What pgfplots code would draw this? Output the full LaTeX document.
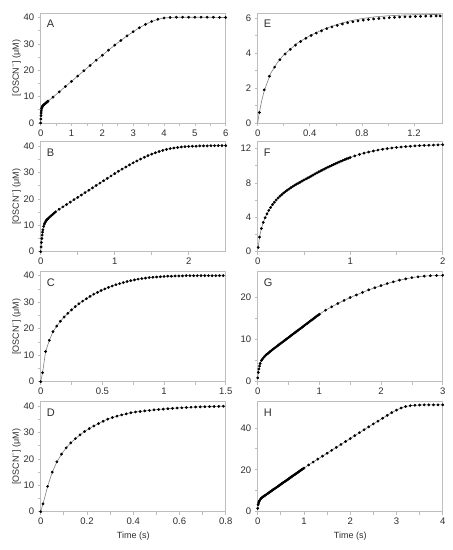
\documentclass[border=0pt]{standalone}
\usepackage{fontspec}
\setmainfont{Liberation Sans}
\usepackage{pgfplots}
\usepackage{pgfplotstable}
\pgfplotsset{compat=1.18}

\definecolor{framegray}{HTML}{BDBDBD}
\definecolor{txt}{HTML}{2E2E2E}

% ---- data (time in s, [OSCN-] in uM) ----
\pgfplotstableread{
t y
0 0
0.005 1.5
0.01 2.8
0.015 3.8
0.02 4.6
0.03 5.4
0.04 5.9
0.05 6.2
0.06 6.4
0.08 6.7
0.1 6.9
0.12 7.1
0.14 7.3
0.16 7.5
0.18 7.7
0.2 7.9
0.22 8.1
0.24 8.3
0.4 9.8
0.6 11.8
0.8 13.8
1.0 15.8
1.2 17.8
1.4 19.8
1.6 21.8
1.8 23.8
2.0 25.7
2.2 27.6
2.4 29.5
2.6 31.3
2.8 33.0
3.0 34.6
3.2 36.1
3.4 37.4
3.6 38.5
3.8 39.3
4.0 39.8
4.2 40.0
4.4 40.1
4.6 40.1
4.8 40.1
5.0 40.1
5.2 40.1
5.4 40.1
5.6 40.1
5.8 40.0
6.0 40.0
}\dataA

\pgfplotstableread{
t y
0 0
0.005 1.8
0.01 3.5
0.015 5.0
0.02 6.3
0.025 7.4
0.03 8.3
0.04 9.6
0.05 10.5
0.06 11.1
0.07 11.6
0.08 12.0
0.09 12.3
0.1 12.6
0.12 13.1
0.14 13.6
0.16 14.1
0.18 14.6
0.2 15.1
0.25 16.1
0.3 17.0
0.35 17.9
0.4 18.8
0.45 19.7
0.5 20.6
0.55 21.5
0.6 22.4
0.65 23.3
0.7 24.2
0.75 25.1
0.8 26.0
0.85 26.9
0.9 27.8
0.95 28.7
1.0 29.6
1.05 30.5
1.1 31.3
1.15 32.1
1.2 32.9
1.25 33.7
1.3 34.4
1.35 35.1
1.4 35.8
1.45 36.4
1.5 37.0
1.55 37.5
1.6 38.0
1.65 38.4
1.7 38.8
1.75 39.1
1.8 39.3
1.85 39.5
1.9 39.7
1.95 39.8
2.0 39.9
2.05 40.0
2.1 40.0
2.15 40.1
2.2 40.1
2.25 40.1
2.3 40.2
2.35 40.2
2.4 40.2
2.45 40.2
2.5 40.2
}\dataB

\pgfplotstableread{
t y
0 0
0.015 3.4
0.04 11.4
0.07 15.6
0.1 18.9
0.13 21.0
0.16 22.8
0.19 24.4
0.22 25.8
0.25 27.1
0.28 28.3
0.31 29.4
0.34 30.4
0.37 31.3
0.40 32.2
0.43 33.0
0.46 33.7
0.49 34.4
0.52 35.0
0.55 35.6
0.58 36.1
0.61 36.6
0.64 37.0
0.67 37.4
0.70 37.8
0.73 38.1
0.76 38.4
0.79 38.7
0.82 38.9
0.85 39.1
0.88 39.3
0.91 39.4
0.94 39.5
0.97 39.6
1.00 39.7
1.03 39.8
1.06 39.8
1.09 39.9
1.12 39.9
1.15 39.9
1.18 40.0
1.21 40.0
1.24 40.0
1.27 40.0
1.30 40.0
1.33 40.0
1.36 40.0
1.39 40.0
1.42 40.0
1.45 40.0
1.48 40.0
}\dataC

\pgfplotstableread{
t y
0 0
0.01 3.0
0.03 9.6
0.05 15.0
0.07 18.9
0.09 21.8
0.11 24.2
0.13 26.1
0.15 27.7
0.17 29.1
0.19 30.4
0.21 31.5
0.23 32.5
0.25 33.4
0.27 34.3
0.29 35.1
0.31 35.7
0.33 36.2
0.35 36.7
0.37 37.1
0.39 37.5
0.41 37.8
0.43 38.0
0.45 38.2
0.47 38.4
0.49 38.6
0.51 38.75
0.53 38.9
0.55 39.05
0.57 39.2
0.59 39.3
0.61 39.4
0.63 39.5
0.65 39.6
0.67 39.7
0.69 39.75
0.71 39.8
0.73 39.85
0.75 39.9
0.77 39.95
0.79 40.0
}\dataD

\pgfplotstableread{
t y
0.013 0.60
0.05 1.90
0.09 2.68
0.13 3.20
0.17 3.62
0.21 3.95
0.25 4.22
0.29 4.46
0.33 4.67
0.37 4.85
0.41 5.01
0.45 5.15
0.49 5.28
0.53 5.40
0.57 5.50
0.61 5.59
0.65 5.67
0.69 5.74
0.73 5.80
0.77 5.85
0.81 5.89
0.85 5.93
0.89 5.96
0.93 5.99
0.97 6.01
1.01 6.03
1.05 6.05
1.09 6.07
1.13 6.08
1.17 6.09
1.21 6.10
1.25 6.11
1.29 6.12
1.33 6.12
1.37 6.13
1.40 6.13
}\dataE

% fitted curve for E (runs a little above the points late on)
\pgfplotstableread{
t y
0 0
0.01 0.5
0.03 1.25
0.05 1.85
0.1 2.85
0.15 3.45
0.2 3.9
0.3 4.55
0.4 5.0
0.5 5.35
0.6 5.62
0.7 5.84
0.8 5.98
0.9 6.08
1.0 6.14
1.1 6.18
1.2 6.2
1.3 6.21
1.4 6.22
}\fitE

\pgfplotstableread{
t y
0.005 0.5
0.02 1.7
0.04 2.7
0.06 3.4
0.08 3.95
0.10 4.4
0.12 4.8
0.14 5.15
0.16 5.47
0.18 5.76
0.20 6.02
0.22 6.25
0.24 6.46
0.26 6.65
0.28 6.83
0.30 7.0
0.32 7.16
0.34 7.31
0.36 7.46
0.38 7.6
0.40 7.73
0.42 7.86
0.44 7.98
0.46 8.1
0.48 8.22
0.50 8.34
0.52 8.46
0.54 8.57
0.56 8.69
0.58 8.81
0.60 8.93
0.62 9.05
0.64 9.17
0.66 9.29
0.68 9.4
0.70 9.51
0.72 9.62
0.74 9.73
0.76 9.84
0.78 9.94
0.80 10.04
0.82 10.14
0.84 10.24
0.86 10.34
0.88 10.44
0.90 10.53
0.92 10.62
0.94 10.71
0.96 10.8
0.98 10.88
1.00 10.96
1.05 11.15
1.10 11.32
1.15 11.47
1.20 11.6
1.25 11.72
1.30 11.83
1.35 11.92
1.40 12.0
1.45 12.07
1.50 12.13
1.55 12.18
1.60 12.23
1.65 12.27
1.70 12.31
1.75 12.34
1.80 12.37
1.85 12.39
1.90 12.41
1.95 12.43
2.00 12.45
}\dataF

\pgfplotstableread{
t y
0 0.9
0.01 2.2
0.02 3.0
0.03 3.7
0.04 4.3
0.06 5.0
0.08 5.4
0.10 5.8
0.12 6.1
0.14 6.4
0.16 6.6
0.18 6.85
0.20 7.1
0.22 7.33
0.24 7.56
0.26 7.79
0.28 8.02
0.30 8.25
0.32 8.47
0.34 8.69
0.36 8.91
0.38 9.13
0.40 9.35
0.42 9.57
0.44 9.79
0.46 10.01
0.48 10.23
0.50 10.45
0.52 10.67
0.54 10.89
0.56 11.11
0.58 11.33
0.60 11.55
0.62 11.77
0.64 11.99
0.66 12.21
0.68 12.43
0.70 12.65
0.72 12.87
0.74 13.09
0.76 13.31
0.78 13.53
0.80 13.75
0.82 13.97
0.84 14.19
0.86 14.41
0.88 14.63
0.90 14.85
0.92 15.07
0.94 15.29
0.96 15.51
0.98 15.73
1.00 15.95
1.1 16.9
1.2 17.7
1.3 18.5
1.4 19.2
1.5 19.9
1.6 20.5
1.7 21.1
1.8 21.7
1.9 22.2
2.0 22.7
2.1 23.2
2.2 23.6
2.3 24.0
2.4 24.3
2.5 24.6
2.6 24.8
2.7 24.95
2.8 25.05
2.9 25.1
3.0 25.15
}\dataG

\pgfplotstableread{
t y
0 1.6
0.01 3.3
0.02 4.2
0.03 4.8
0.04 5.3
0.06 6.0
0.08 6.5
0.10 6.9
0.12 7.2
0.14 7.5
0.16 7.8
0.18 8.11
0.20 8.42
0.22 8.73
0.24 9.04
0.26 9.35
0.28 9.66
0.30 9.97
0.32 10.28
0.34 10.59
0.36 10.9
0.38 11.21
0.40 11.52
0.42 11.83
0.44 12.14
0.46 12.45
0.48 12.76
0.50 13.07
0.52 13.38
0.54 13.69
0.56 14.0
0.58 14.31
0.60 14.62
0.62 14.93
0.64 15.24
0.66 15.55
0.68 15.86
0.70 16.17
0.72 16.48
0.74 16.79
0.76 17.1
0.78 17.41
0.80 17.72
0.82 18.03
0.84 18.34
0.86 18.65
0.88 18.96
0.90 19.27
0.92 19.58
0.94 19.89
0.96 20.2
0.98 20.51
1.00 20.82
1.1 22.3
1.2 23.7
1.3 25.1
1.4 26.5
1.5 27.9
1.6 29.3
1.7 30.7
1.8 32.1
1.9 33.5
2.0 34.9
2.1 36.3
2.2 37.7
2.3 39.1
2.4 40.5
2.5 41.9
2.6 43.2
2.7 44.6
2.8 46.0
2.9 47.3
3.0 48.5
3.1 49.5
3.2 50.2
3.3 50.6
3.4 50.8
3.5 50.9
3.6 51.0
3.7 51.0
3.8 51.0
3.9 51.0
4.0 51.0
}\dataH

\pgfplotsset{
  panel/.style={
    scale only axis, width=185pt, height=110pt, anchor=south west,
    axis line style={framegray, line width=0.7pt},
    tick style={framegray, line width=0.7pt},
    tick align=outside, major tick length=3pt, minor tick length=3pt,
    xtick pos=bottom, ytick pos=left,
    minor tick num=1,
    xmin=0, ymin=0, clip=false,
    tick label style={font=\fontsize{9.5}{10}\selectfont, text=txt},
    /pgf/number format/assume math mode=true,
    /pgf/number format/fixed,
    label style={font=\fontsize{9}{10}\selectfont, text=txt},
  },
  leftcol/.style={panel, ylabel={[OSCN\textsuperscript{−}] (μM)}, ylabel shift=-4pt},
  fitline/.style={black!50, line width=0.6pt, no marks},
  dots/.style={only marks, mark=*, mark size=1.2pt, mark options={black, draw=black}},
}

\newcommand{\letter}[1]{\node[anchor=north west, inner sep=0pt, font=\fontsize{11}{12}\selectfont, text=txt]
  at (rel axis cs:0,1) [xshift=6pt, yshift=-7pt] {#1};}

\begin{document}
\begin{tikzpicture}
\fill[white] (0,0) rectangle (453pt,550pt);
\useasboundingbox (0,0) rectangle (453pt,550pt);

% left column
\begin{axis}[leftcol, at={(40.7pt,427pt)}, xmax=6, ymax=41.7, xtick={0,1,...,6}, ytick={0,10,...,40}]
\addplot[fitline] table {\dataA};
\addplot[dots] table {\dataA};
\letter{A}
\end{axis}

\begin{axis}[leftcol, at={(40.7pt,298.3pt)}, xmax=2.5, ymax=41.7, xtick={0,1,2}, ytick={0,10,...,40}]
\addplot[fitline] table {\dataB};
\addplot[dots] table {\dataB};
\letter{B}
\end{axis}

\begin{axis}[leftcol, at={(40.7pt,168.3pt)}, xmax=1.5, ymax=41.5, xtick={0,0.5,1,1.5}, ytick={0,10,...,40}]
\addplot[fitline] table {\dataC};
\addplot[dots] table {\dataC};
\letter{C}
\end{axis}

\begin{axis}[leftcol, at={(40.7pt,38.3pt)}, xmax=0.8, ymax=41.7, xtick={0,0.2,0.4,0.6,0.8}, ytick={0,10,...,40}, xlabel={Time (s)}]
\addplot[fitline] table {\dataD};
\addplot[dots] table {\dataD};
\letter{D}
\end{axis}

% right column
\begin{axis}[panel, at={(257.7pt,427pt)}, xmax=1.42, ymax=6.3, xtick={0,0.4,0.8,1.2}, ytick={0,2,4,6}]
\addplot[fitline] table {\fitE};
\addplot[dots] table {\dataE};
\letter{E}
\end{axis}

\begin{axis}[panel, at={(257.7pt,298.3pt)}, xmax=2, ymax=12.8, xtick={0,1,2}, ytick={0,4,8,12}]
\addplot[fitline] table {\dataF};
\addplot[dots] table {\dataF};
\letter{F}
\end{axis}

\begin{axis}[panel, at={(257.7pt,168.3pt)}, xmax=3, ymax=26, xtick={0,1,2,3}, ytick={0,10,20}]
\addplot[fitline] table {\dataG};
\addplot[dots] table {\dataG};
\letter{G}
\end{axis}

\begin{axis}[panel, at={(257.7pt,38.3pt)}, xmax=4, ymax=52.5, xtick={0,1,...,4}, ytick={0,20,40}, xlabel={Time (s)}]
\addplot[fitline] table {\dataH};
\addplot[dots] table {\dataH};
\letter{H}
\end{axis}
\end{tikzpicture}
\end{document}
